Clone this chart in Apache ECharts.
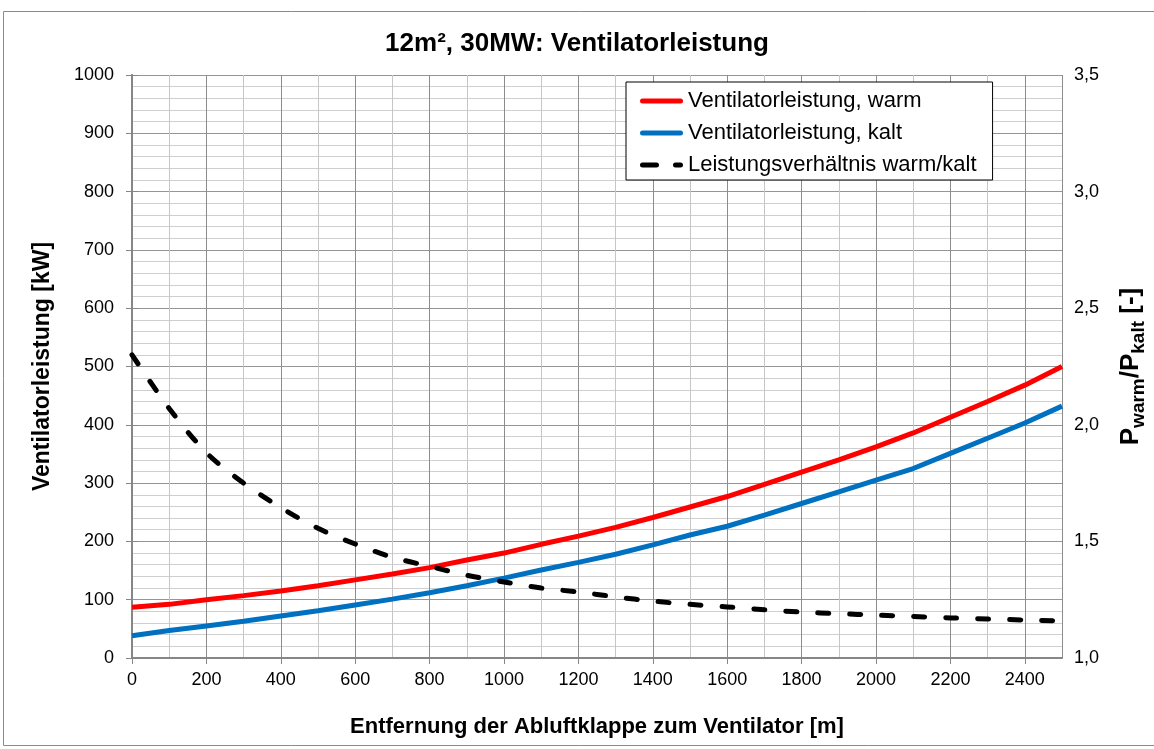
<!DOCTYPE html>
<html>
<head>
<meta charset="utf-8">
<script src="https://cdn.jsdelivr.net/npm/echarts@6/dist/echarts.min.js"></script>
<style>
html,body{margin:0;padding:0;background:#fff;}
#c{width:1154px;height:749px;}
</style>
</head>
<body>
<div id="c"></div>
<script>
// Distance (m)
const distance = [0,100,200,300,400,500,600,700,800,900,1000,1100,1200,1300,1400,1500,1600,1700,1800,1900,2000,2100,2200,2300,2400,2500];
// Ventilatorleistung, warm [kW]
const powerWarm = [87,92,100,107,115,124,134,144,155,168,180,195,209,224,241,259,277,298,319,340,362,386,413,440,468,500];
// Ventilatorleistung, kalt [kW]
const powerCold = [38,47,55,63,72,81,91,101,112,124,137,151,164,178,194,211,226,245,265,285,305,325,351,377,403,432];
// Leistungsverhältnis warm/kalt [-]
const powerRatio = [2.30,2.07,1.88,1.75,1.645,1.556,1.489,1.432,1.393,1.355,1.326,1.30,1.283,1.262,1.244,1.23,1.219,1.207,1.197,1.19,1.184,1.178,1.172,1.167,1.163,1.159];

const seriesNames = ['Ventilatorleistung, warm','Ventilatorleistung, kalt','Leistungsverhältnis warm/kalt'];
const titleText = '12m², 30MW: Ventilatorleistung';
const xName = 'Entfernung der Abluftklappe zum Ventilator [m]';
const yName = 'Ventilatorleistung [kW]';

const FONT = 'Liberation Sans, Arial, sans-serif';
const pair = (ys) => distance.map((x, i) => [x, ys[i]]);

const chart = echarts.init(document.getElementById('c'), null, {renderer: 'canvas'});
chart.setOption({
  animation: false,
  backgroundColor: '#fff',
  textStyle: {fontFamily: FONT, color: '#000'},
  graphic: [{
    type: 'rect', shape: {x: 3.5, y: 11.5, width: 1160, height: 734},
    style: {fill: 'none', stroke: '#8a8a8a', lineWidth: 1}, z: -10
  }],
  title: {
    text: titleText, left: 'center', top: 26,
    textStyle: {fontFamily: FONT, fontSize: 26, fontWeight: 'bold', color: '#000'}
  },
  legend: {
    left: 626, top: 82, orient: 'vertical',
    backgroundColor: '#fff', borderColor: '#000', borderWidth: 1,
    padding: [7, 16, 3, 14],
    itemWidth: 43, itemHeight: 5, itemGap: 8, itemTextGap: 4,
    textStyle: {fontFamily: FONT, fontSize: 22, color: '#000', lineHeight: 24},
    data: [
      {name: seriesNames[0], icon: 'path://M2.5,0h38a2.5,2.5,0,0,1,0,5h-38a2.5,2.5,0,0,1,0,-5z'},
      {name: seriesNames[1], icon: 'path://M2.5,0h38a2.5,2.5,0,0,1,0,5h-38a2.5,2.5,0,0,1,0,-5z'},
      {name: seriesNames[2], icon: 'path://M2.5,0h14a2.5,2.5,0,0,1,0,5h-14a2.5,2.5,0,0,1,0,-5z M35.5,0h5a2.5,2.5,0,0,1,0,5h-5a2.5,2.5,0,0,1,0,-5z'}
    ]
  },
  grid: {left: 132, right: 92, top: 75, bottom: 91, containLabel: false, outerBoundsMode: 'none'},
  xAxis: [{
    type: 'value', min: 0, max: 2500, interval: 100, position: 'bottom',
    axisLine: {show: false}, axisTick: {show: false}, axisLabel: {show: false},
    splitLine: {show: true, lineStyle: {color: '#c6c6c6', width: 1}}
  }, {
    type: 'value', min: 0, max: 2500, interval: 200, position: 'bottom',
    name: xName, nameLocation: 'middle', nameGap: 58,
    nameTextStyle: {fontFamily: FONT, fontSize: 22, fontWeight: 'bold', color: '#000'},
    axisLine: {show: true, onZero: false, lineStyle: {color: '#868686', width: 2}},
    axisTick: {show: true, length: 6, lineStyle: {color: '#868686'}},
    axisLabel: {fontFamily: FONT, fontSize: 18, color: '#000', margin: 13, showMaxLabel: false,
      formatter: v => String(v)},
    splitLine: {show: true, lineStyle: {color: '#8c8c8c', width: 1}}
  }],
  yAxis: [{
    type: 'value', min: 0, max: 1000, interval: 100,
    name: yName, nameLocation: 'middle', nameGap: 78, nameRotate: 90,
    nameTextStyle: {fontFamily: FONT, fontSize: 23, fontWeight: 'bold', color: '#000'},
    axisLine: {show: true, lineStyle: {color: '#868686', width: 2}},
    axisTick: {show: true, length: 6, lineStyle: {color: '#868686'}},
    axisLabel: {fontFamily: FONT, fontSize: 18, color: '#000', margin: 18, formatter: v => String(v)},
    splitLine: {show: true, lineStyle: {color: '#959595', width: 1}},
    minorTick: {show: false, splitNumber: 5},
    minorSplitLine: {show: true, lineStyle: {color: '#cfcfcf', width: 1}}
  }, {
    type: 'value', min: 1, max: 3.5, interval: 0.5, position: 'right',
    name: '{b|P}{s|warm}{b|/P}{s|kalt}{b| [-]}', nameLocation: 'middle', nameGap: 52, nameRotate: 90,
    nameTextStyle: {
      fontFamily: FONT, fontSize: 26, fontWeight: 'bold', color: '#000',
      rich: {
        b: {fontFamily: FONT, fontSize: 26, fontWeight: 'bold', color: '#000', lineHeight: 34, verticalAlign: 'middle'},
        s: {fontFamily: FONT, fontSize: 19, fontWeight: 'bold', color: '#000', lineHeight: 34, verticalAlign: 'bottom'}
      }
    },
    axisLine: {show: true, lineStyle: {color: '#868686', width: 2}},
    axisTick: {show: true, length: 6, lineStyle: {color: '#868686'}},
    axisLabel: {fontFamily: FONT, fontSize: 18, color: '#000', margin: 12,
      formatter: v => v.toFixed(1).replace('.', ',')},
    splitLine: {show: false}
  }],
  series: [{
    name: seriesNames[0], type: 'line', xAxisIndex: 1, yAxisIndex: 0,
    data: pair(powerWarm), symbol: 'none', smooth: false,
    lineStyle: {color: '#ff0000', width: 5}, itemStyle: {color: '#ff0000'}
  }, {
    name: seriesNames[1], type: 'line', xAxisIndex: 1, yAxisIndex: 0,
    data: pair(powerCold), symbol: 'none', smooth: false,
    lineStyle: {color: '#0070c0', width: 5}, itemStyle: {color: '#0070c0'}
  }, {
    name: seriesNames[2], type: 'line', xAxisIndex: 1, yAxisIndex: 1,
    data: pair(powerRatio), symbol: 'none', smooth: 0.3,
    lineStyle: {color: '#000', width: 5, type: [11, 21], cap: 'round'}, itemStyle: {color: '#000'}
  }]
});
</script>
</body>
</html>
